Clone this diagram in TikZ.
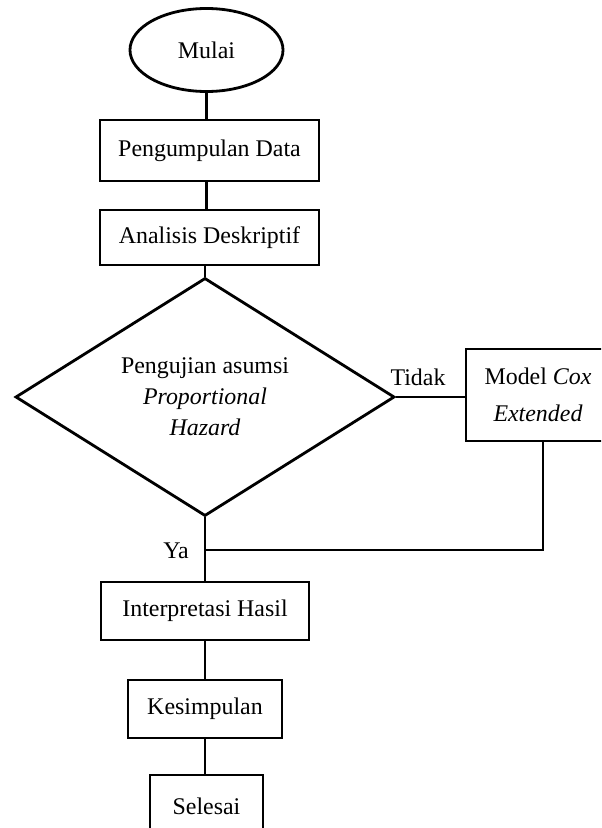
\documentclass[tikz,border=0pt]{standalone}
\usepackage{fontspec}
\setmainfont{Liberation Serif}
\usetikzlibrary{shapes.geometric}

\begin{document}
\begin{tikzpicture}[x=0.025cm,y=-0.025cm,line width=2pt,font=\fontsize{17}{23}\selectfont]
  \tikzstyle{terminal}=[draw,ellipse,inner sep=0pt,minimum width=3.825cm,minimum height=2.075cm]
  \tikzstyle{proses}=[draw,rectangle,inner sep=0pt,align=center]
  \tikzstyle{keputusan}=[draw,diamond,aspect=1.6,inner sep=0pt,minimum width=9.475cm,minimum height=5.95cm,align=center]

  \useasboundingbox (0,0) rectangle (601,828);
  \clip (0,0) rectangle (601,828);

  \node[terminal]  (mulai)  at (206.5,50)  {Mulai};
  \node[proses,minimum width=5.475cm,minimum height=1.525cm] (data)   at (209.5,150.5) {Pengumpulan Data};
  \node[proses,minimum width=5.475cm,minimum height=1.375cm] (des)    at (209.5,237.5) {Analisis Deskriptif};
  \node[keputusan,font=\fontsize{17}{22}\selectfont] (uji) at (205,397) {Pengujian asumsi\\\textit{Proportional}\\\textit{Hazard}};
  \node[proses,minimum width=3.6cm,minimum height=2.3cm,font=\fontsize{17}{26}\selectfont] (cox) at (538,395) {Model \textit{Cox}\\\textit{Extended}};
  \node[proses,minimum width=5.2cm,minimum height=1.45cm]   (interp) at (205,611)   {Interpretasi Hasil};
  \node[proses,minimum width=3.85cm,minimum height=1.45cm]  (simpul) at (205,709)   {Kesimpulan};
  \node[proses,minimum width=2.825cm,minimum height=1.55cm] (selesai) at (206.5,806) {Selesai};
  \coordinate (gabung) at (205,550);

  \node (tidak) at (418,377) {Tidak};
  \node (ya)    at (176,551) {Ya};

  \draw (mulai.south) -- (mulai.south |- data.north);
  \draw (mulai.south |- data.south) -- (mulai.south |- des.north);
  \draw (uji.north |- des.south) -- (uji.north);
  \draw (uji.east) -- (uji.east -| cox.west);
  \draw (uji.south) -- (interp.north);
  \draw (cox.south -| 543,0) -- (543,550) -- (gabung);
  \draw (interp.south) -- (simpul.north);
  \draw (simpul.south) -- (simpul.south |- selesai.north);
\end{tikzpicture}
\end{document}
